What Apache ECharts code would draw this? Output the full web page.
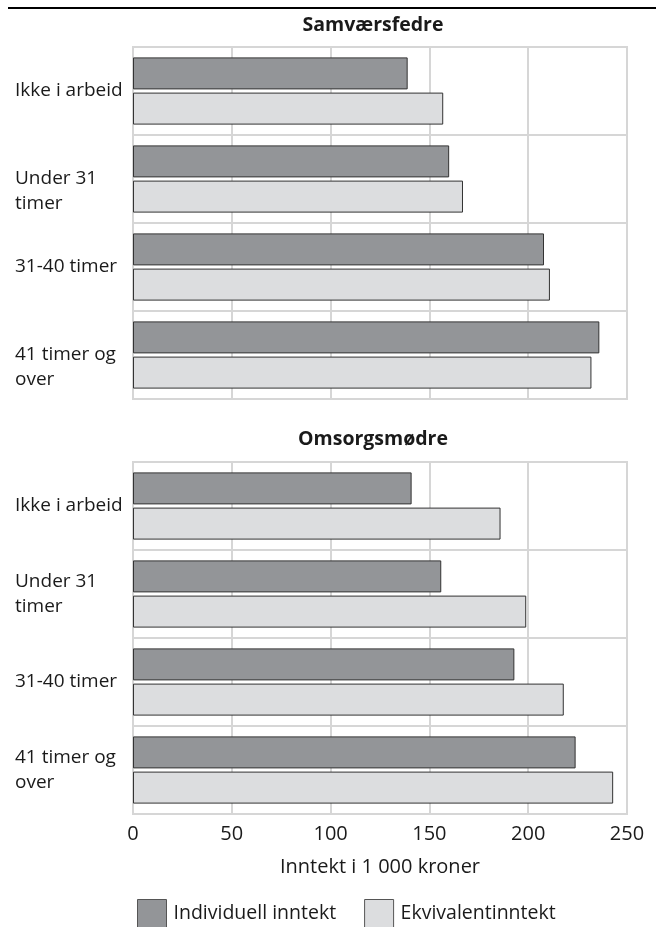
<!DOCTYPE html>
<html>
<head>
<meta charset="utf-8">
<script src="https://cdn.jsdelivr.net/npm/echarts@6/dist/echarts.min.js"></script>
<style>
html,body{margin:0;padding:0;background:#fff;}
#chart{width:656px;height:927px;}
</style>
</head>
<body>
<div id="chart"></div>
<script>
const categories = ['Ikke i arbeid', 'Under 31\ntimer', '31-40 timer', '41 timer og\nover'];
const panelTitles = ['Samværsfedre', 'Omsorgsmødre'];
const seriesNames = ['Individuell inntekt', 'Ekvivalentinntekt'];
const fedreIndividuell = [139, 160, 208, 236];
const fedreEkvivalent = [157, 167, 211, 232];
const modreIndividuell = [141, 156, 193, 224];
const modreEkvivalent = [186, 199, 218, 243];
const xTicks = [0, 50, 100, 150, 200, 250];
const axisTitle = 'Inntekt i 1 000 kroner';

const FONT = '"Open Sans", "Noto Sans", sans-serif';
const DARK = '#939598';
const LIGHT = '#dcdddf';
const GRIDC = '#d6d6d6';
const TXT = '#1a1a1a';

const chart = echarts.init(document.getElementById('chart'), null, {renderer: 'canvas'});

function yCat(idx, shiftMulti) {
  return {
    type: 'category', gridIndex: idx, inverse: true,
    data: categories,
    axisLine: {show: false}, axisTick: {show: false},
    splitLine: {show: true, lineStyle: {color: GRIDC, width: 2}},
    axisLabel: {
      align: 'left', margin: 118, color: TXT, fontSize: 19, fontFamily: FONT, lineHeight: 25,
      formatter: function (v) { return (shiftMulti && v.indexOf('\n') >= 0) ? '\n' + v : v; }
    }
  };
}
function xVal(idx, showLabels) {
  return {
    type: 'value', gridIndex: idx, min: xTicks[0], max: xTicks[xTicks.length - 1], interval: 50,
    axisLine: {show: false}, axisTick: {show: false},
    splitLine: {show: true, lineStyle: {color: GRIDC, width: 2}},
    axisLabel: {show: showLabels, color: TXT, fontSize: 20, fontFamily: FONT, margin: 10},
    name: showLabels ? axisTitle : '', nameLocation: 'middle', nameGap: 43,
    nameTextStyle: {color: TXT, fontSize: 20, fontFamily: FONT}
  };
}
function bar(name, data, idx, color) {
  return {
    name: name, type: 'bar', xAxisIndex: idx, yAxisIndex: idx, data: data,
    barWidth: 32, barGap: '10%',
    itemStyle: {color: color, borderColor: '#333333', borderWidth: 1},
    emphasis: {disabled: true}, animation: false
  };
}

chart.setOption({
  animation: false,
  grid: [
    {left: 133, top: 47, width: 494, height: 352, show: true, borderColor: GRIDC, borderWidth: 2, containLabel: false, outerBoundsMode: 'none'},
    {left: 133, top: 462, width: 494, height: 352, show: true, borderColor: GRIDC, borderWidth: 2, containLabel: false, outerBoundsMode: 'none'}
  ],
  xAxis: [xVal(0, false), xVal(1, true)],
  yAxis: [yCat(0, true), yCat(1, false)],
  legend: {
    data: seriesNames, left: 137, top: 899, padding: 0, itemWidth: 29, itemHeight: 28, itemGap: 28,
    icon: 'rect', textStyle: {color: TXT, fontSize: 19.5, fontFamily: FONT, padding: [0, 0, 0, 2]},
    itemStyle: {borderColor: '#555555', borderWidth: 1}, selectedMode: false
  },
  graphic: [
    {type: 'rect', shape: {x: 8, y: 7, width: 648, height: 2}, style: {fill: '#000'}},
    {type: 'text', x: 373, y: 25, style: {text: panelTitles[0], fill: TXT, font: 'bold 19.5px ' + FONT, textAlign: 'center', textVerticalAlign: 'middle'}},
    {type: 'text', x: 373, y: 439, style: {text: panelTitles[1], fill: TXT, font: 'bold 19.5px ' + FONT, textAlign: 'center', textVerticalAlign: 'middle'}}
  ],
  series: [
    bar(seriesNames[0], fedreIndividuell, 0, DARK),
    bar(seriesNames[1], fedreEkvivalent, 0, LIGHT),
    bar(seriesNames[0], modreIndividuell, 1, DARK),
    bar(seriesNames[1], modreEkvivalent, 1, LIGHT)
  ]
});
</script>
</body>
</html>
